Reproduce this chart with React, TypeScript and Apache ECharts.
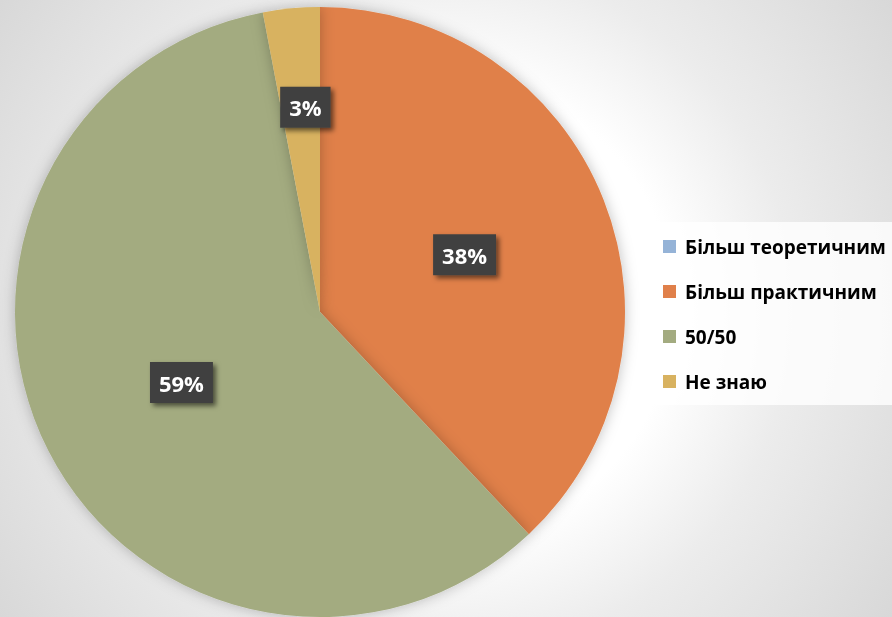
import React, { useEffect, useRef } from "react";
import * as echarts from "echarts";

const categories = ["Більш теоретичним", "Більш практичним", "50/50", "Не знаю"];
const values = [0, 38, 59, 3];
const colors = ["#95B3D7", "#E0804A", "#A3AB80", "#D8B260"];

export default function App() {
  const ref = useRef<HTMLDivElement>(null);
  useEffect(() => {
    if (!ref.current) return;
    const chart = echarts.init(ref.current, null, { renderer: "svg" });
    chart.setOption({
      animation: false,
      backgroundColor: "transparent",
      legend: {
        orient: "vertical",
        left: 655,
        top: 222,
        padding: [15, 8, 14, 8],
        backgroundColor: "rgba(255,255,255,0.8)",
        itemWidth: 13,
        itemHeight: 13,
        itemGap: 26,
        icon: "rect",
        selectedMode: false,
        textStyle: {
          fontFamily: "Open Sans",
          fontWeight: "bold",
          fontSize: 19,
          color: "#000",
          padding: [0, 0, 0, 4],
        },
        data: categories,
      },
      series: [
        {
          type: "pie",
          center: [320, 312],
          radius: [0, 305],
          startAngle: 90,
          clockwise: true,
          avoidLabelOverlap: false,
          itemStyle: {
            shadowBlur: 14,
            shadowColor: "rgba(0,0,0,0.25)",
          },
          label: {
            show: true,
            position: "inside",
            formatter: (p: any) => p.value + "%",
            fontFamily: "Open Sans",
            fontWeight: "bold",
            fontSize: 22,
            color: "#fff",
            backgroundColor: "#404040",
            padding: [10, 9, 9, 9],
            shadowColor: "rgba(0,0,0,0.55)",
            shadowBlur: 5,
            shadowOffsetX: 3,
            shadowOffsetY: 3,
          },
          labelLine: { show: false },
          labelLayout: (p: any) => (p.dataIndex === 3 ? { dy: -50 } : {}),
          emphasis: { disabled: true },
          data: categories.map((name, i) => ({
            name,
            value: values[i],
            itemStyle: { color: colors[i] },
            label: { show: values[i] > 0 },
          })),
        },
      ],
    });
    return () => chart.dispose();
  }, []);
  return (
    <div
      ref={ref}
      style={{
        position: "fixed",
        left: 0,
        top: 0,
        width: 892,
        height: 617,
        background:
          "radial-gradient(circle at 50% 50%, #ffffff 0%, #ffffff 42%, #ececec 64%, #d8d8d8 100%)",
      }}
    />
  );
}
